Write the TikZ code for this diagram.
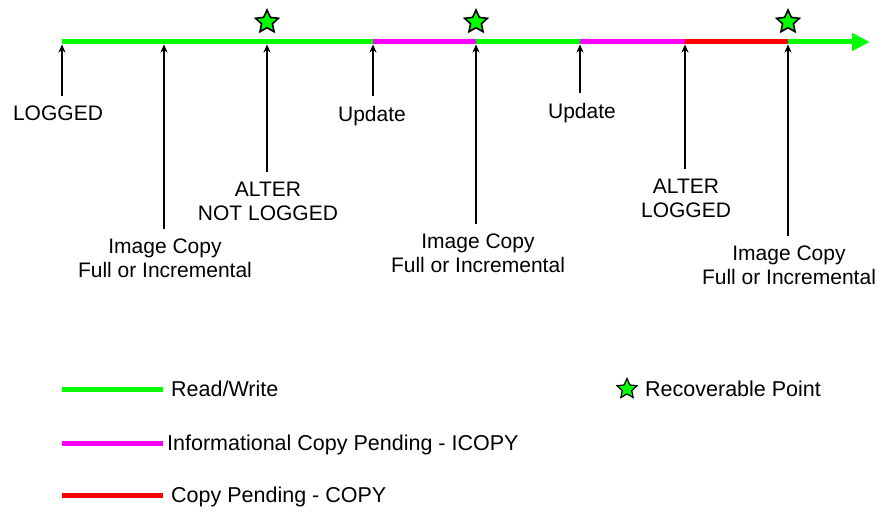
\documentclass[tikz,border=0pt]{standalone}
\usepackage{fontspec}
\setmainfont{Liberation Sans}
\usetikzlibrary{arrows.meta,shapes.geometric}
\definecolor{rwgreen}{RGB}{0,255,0}
\definecolor{icopypink}{RGB}{255,0,255}
\definecolor{copyred}{RGB}{255,0,0}

\begin{document}
\begin{tikzpicture}[x=1pt,y=-1pt,
        phase/.style={line width=5pt},
        event/.style={font=\fontsize{21}{24}\selectfont, align=center, inner sep=0pt, anchor=north},
        key/.style={font=\fontsize{21.5}{24}\selectfont, inner sep=0pt, anchor=base west},
        hit/.style={line width=2pt, -{Stealth[length=8pt,width=7pt]}, shorten <=10pt, shorten >=2.5pt},
        recov/.style={star, star points=5, star point ratio=2.1, fill=rwgreen, draw=black,
          line width=1.6pt, inner sep=0pt, minimum size=24pt}]
        \useasboundingbox (0,0) rectangle (883,519);

        \foreach \n/\x in {a/62, b/164, c/267, d/373, e/476, f/580, g/685, h/788, z/870}
          \coordinate (\n) at (\x,42);

        \draw[phase, rwgreen] (a) -- (d);
        \draw[phase, icopypink] (d) -- (e);
        \draw[phase, rwgreen] (e) -- (f);
        \draw[phase, icopypink] (f) -- (g);
        \draw[phase, copyred] (g) -- (h);
        \draw[phase, rwgreen, -{Triangle[length=18pt,width=17pt]}] (h) -- (z);

        \node[recov] (s1) at (267,22) {};
        \node[recov] (s2) at (476,22) {};
        \node[recov] (s3) at (788,22) {};

        \node[event] (logged) at (58,106) {LOGGED};
        \node[event] (img1) at (165,239) {Image Copy\\Full or Incremental};
        \node[event] (alter1) at (268,182) {ALTER\\NOT LOGGED};
        \node[event] (upd1) at (372,106) {Update};
        \node[event] (img2) at (478,234) {Image Copy\\Full or Incremental};
        \node[event] (upd2) at (582,103) {Update};
        \node[event] (alter2) at (686,179) {ALTER\\LOGGED};
        \node[event] (img3) at (789,246) {Image Copy\\Full or Incremental};

        \draw[hit] (logged.north -| a) -- (a);
        \draw[hit] (img1.north -| b) -- (b);
        \draw[hit] (alter1.north -| c) -- (c);
        \draw[hit] (upd1.north -| d) -- (d);
        \draw[hit] (img2.north -| e) -- (e);
        \draw[hit] (upd2.north -| f) -- (f);
        \draw[hit] (alter2.north -| g) -- (g);
        \draw[hit] (img3.north -| h) -- (h);

        \draw[phase, rwgreen] (62,389) -- (163,389);
        \node[key] (rw) at (171,396) {Read/Write};
        \draw[phase, icopypink] (62,443) -- (163,443);
        \node[key] (icopy) at (167,450) {Informational Copy Pending - ICOPY};
        \draw[phase, copyred] (62,495) -- (163,495);
        \node[key] (copy) at (171,502) {Copy Pending - COPY};

        \node[recov, minimum size=21pt, line width=1.2pt] (sk) at (627,389) {};
        \node[key] (rp) at (645,396) {Recoverable Point};
      \end{tikzpicture}
\end{document}
